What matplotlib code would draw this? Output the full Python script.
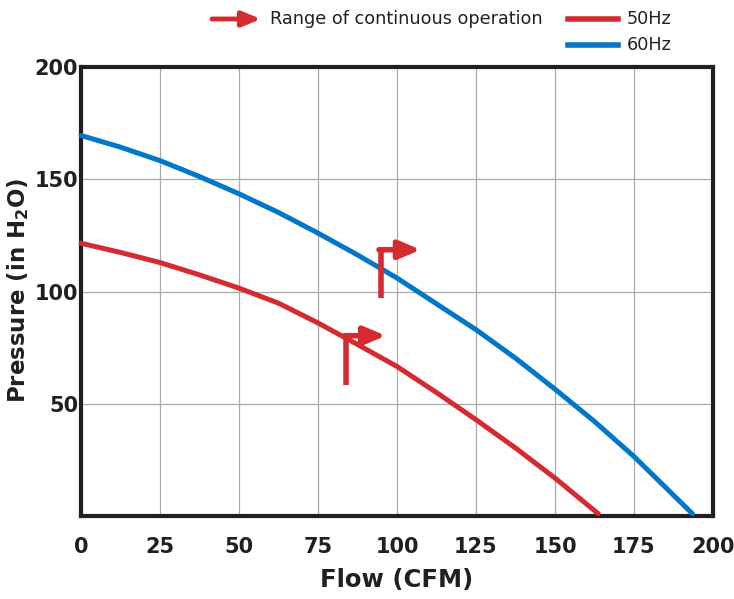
import matplotlib.pyplot as plt

plt.rcParams['font.family'] = ['DejaVu Sans']
plt.rcParams['mathtext.fontset'] = 'dejavusans'

# Curve data
flow_60 = [0, 12.5, 25, 37.5, 50, 62.5, 75, 87.5, 100, 112.5, 125, 137.5, 150, 162.5, 175, 193.5]
pres_60 = [169.5, 164.3, 158.3, 151.2, 143.5, 135.2, 126, 116.3, 106, 94.5, 83, 70.3, 56.5, 42.1, 26.5, 1]
flow_50 = [0, 12.5, 25, 37.5, 50, 62.5, 75, 87.5, 100, 112.5, 125, 137.5, 150, 163.7]
pres_50 = [121.5, 117.4, 112.9, 107.4, 101.5, 94.8, 86, 76.4, 66.6, 55, 42.9, 30.3, 16.9, 1]

# Start of continuous operation range (bar bottom, corner, arrow tip)
range_60 = {'x': 95, 'y0': 97, 'y1': 118.6, 'tip': 107.5}
range_50 = {'x': 84, 'y0': 58.5, 'y1': 80.3, 'tip': 96.5}

xticks = [0, 25, 50, 75, 100, 125, 150, 175, 200]
yticks = [50, 100, 150, 200]

red = '#d52b30'
blue = '#0077c8'
dark = '#231f20'

fig = plt.figure(figsize=(7.34, 5.99), dpi=100)
ax = fig.add_axes([81 / 734, 1 - 516 / 599, 632 / 734, 449 / 599])

ax.plot(flow_60, pres_60, color=blue, lw=3.6, solid_capstyle='round', clip_on=False, zorder=3)
ax.plot(flow_50, pres_50, color=red, lw=3.6, solid_capstyle='round', clip_on=False, zorder=3)

for r in (range_60, range_50):
    ax.plot([r['x'], r['x']], [r['y0'], r['y1']], color=red, lw=4, solid_capstyle='butt', zorder=4)
    ax.annotate('', xy=(r['tip'], r['y1']), xytext=(r['x'] - 0.7, r['y1']),
                arrowprops=dict(arrowstyle='-|>,head_length=1.3,head_width=0.55',
                                color=red, lw=4, shrinkA=0, shrinkB=0), zorder=4)

ax.set_xlim(0, 200)
ax.set_ylim(0, 200)
ax.set_xticks(xticks)
ax.set_yticks(yticks)
ax.grid(True, color='#aaaaaa', lw=0.9)
ax.set_axisbelow(True)
ax.tick_params(length=0, labelsize=15, colors=dark)
ax.tick_params(axis='x', pad=15)
ax.tick_params(axis='y', pad=2)
for lbl in ax.get_xticklabels() + ax.get_yticklabels():
    lbl.set_fontweight('bold')
for s in ax.spines.values():
    s.set_linewidth(3)
    s.set_color(dark)

ax.set_xlabel('Flow (CFM)', fontsize=17.5, fontweight='bold', color=dark)
ax.set_ylabel(r'Pressure (in H$_\mathbf{2}$O)', fontsize=16.5, fontweight='bold', color=dark)
ax.xaxis.set_label_coords(0.5, -0.143)
ax.yaxis.set_label_coords(-0.1, 0.503)
ax.xaxis.label.set_va('center')
ax.yaxis.label.set_va('center')

# Legend drawn above the plot
fig.add_artist(plt.Line2D([568 / 734, 618 / 734], [1 - 19 / 599] * 2, color=red, lw=4))
fig.add_artist(plt.Line2D([568 / 734, 618 / 734], [1 - 45 / 599] * 2, color=blue, lw=4))
fig.text(627 / 734, 1 - 19 / 599, '50Hz', fontsize=12.7, color=dark, va='center')
fig.text(627 / 734, 1 - 45 / 599, '60Hz', fontsize=12.7, color=dark, va='center')
fig.text(270 / 734, 1 - 19 / 599, 'Range of continuous operation', fontsize=12.7, color=dark, va='center')
ax.annotate('', xy=(261 / 734, 1 - 19 / 599), xytext=(212 / 734, 1 - 19 / 599),
            xycoords='figure fraction', textcoords='figure fraction',
            arrowprops=dict(arrowstyle='-|>,head_length=1.1,head_width=0.45',
                            color=red, lw=3.5, shrinkA=0, shrinkB=0))

fig.savefig('out.png', dpi=100)
